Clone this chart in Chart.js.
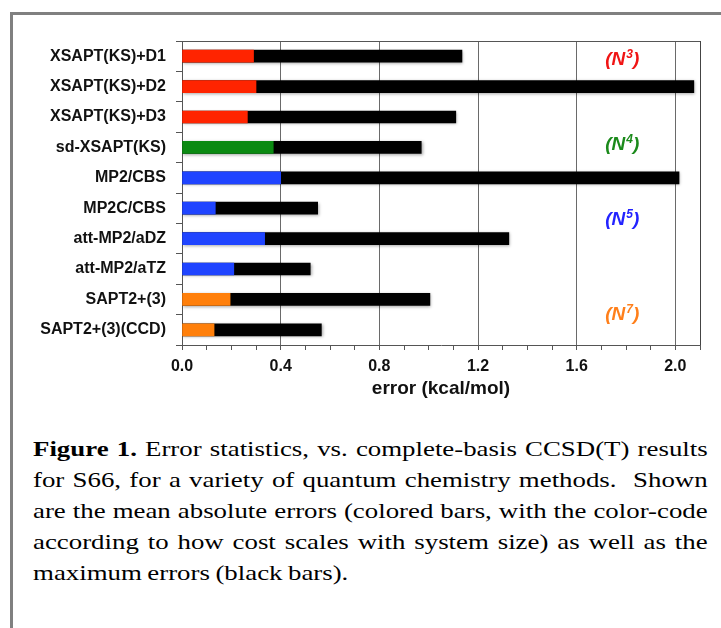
<!DOCTYPE html>
<html>
<head>
<meta charset="utf-8">
<script src="https://cdn.jsdelivr.net/npm/chart.js@4.4.1/dist/chart.umd.min.js"></script>
<style>
  html, body { margin: 0; padding: 0; background: #fff; }
  body { width: 721px; height: 628px; position: relative; overflow: hidden; }
  .frame {
    position: absolute; left: 10px; top: 12px; right: -10px; bottom: -10px;
    border-top: 3px solid #808080; border-left: 3px solid #808080;
  }
  #wrap { position: absolute; left: 0; top: 0; width: 721px; height: 405px; }
  /* caption set in a wide serif: 22px type stretched across 675px */
  .caption {
    position: absolute; left: 33px; top: 433px; width: 553px;
    transform: scaleX(1.22); transform-origin: left top;
    font-family: "Liberation Serif", "Times New Roman", serif;
    font-size: 22px; line-height: 31px; color: #000; word-spacing: -1px;
  }
  .caption div { text-align: justify; text-align-last: justify; white-space: nowrap; }
  .caption div.last { text-align-last: left; }
</style>
</head>
<body>
<div class="frame"></div>
<div id="wrap"><canvas id="chart"></canvas></div>
<div class="caption">
  <div><b>Figure 1.</b> Error statistics, vs. complete-basis CCSD(T) results</div>
  <div>for S66, for a variety of quantum chemistry methods.&nbsp; Shown</div>
  <div>are the mean absolute errors (colored bars, with the color-code</div>
  <div>according to how cost scales with system size) as well as the</div>
  <div class="last">maximum errors (black bars).</div>
</div>
<script>
// methods, top to bottom
const methods = [
  "XSAPT(KS)+D1", "XSAPT(KS)+D2", "XSAPT(KS)+D3", "sd-XSAPT(KS)", "MP2/CBS",
  "MP2C/CBS", "att-MP2/aDZ", "att-MP2/aTZ", "SAPT2+(3)", "SAPT2+(3)(CCD)",
];
// mean absolute error and maximum error, kcal/mol
const meanErrors = [0.29, 0.30, 0.265, 0.37, 0.40, 0.135, 0.335, 0.21, 0.195, 0.13];
const maxErrors = [1.135, 2.075, 1.11, 0.97, 2.015, 0.55, 1.325, 0.52, 1.005, 0.565];
// cost scaling of each method
const scaling = ["N3", "N3", "N3", "N4", "N5", "N5", "N5", "N5", "N7", "N7"];
const xTicksShown = [0.4, 0.8, 1.2, 1.6, 2.0];

const SCALE_COLORS = { N3: "#ff2400", N4: "#0b8a12", N5: "#1f44ff", N7: "#ff7f0a" };
const TAG_COLORS = { N3: "#f01414", N4: "#1b8a1b", N5: "#2323ff", N7: "#ff7f1a" };
// where the scaling tags sit: x in kcal/mol, y in category index
const tags = [
  { key: "N3", exp: "3", x: 1.785, y: 0.12 },
  { key: "N4", exp: "4", x: 1.785, y: 2.92 },
  { key: "N5", exp: "5", x: 1.785, y: 5.39 },
  { key: "N7", exp: "7", x: 1.785, y: 8.51 },
];

const isMajor = (v) => v > 0.01 && xTicksShown.some((t) => Math.abs(v - t) < 1e-6);

// drop shadow under the black bars
const barShadow = {
  id: "barShadow",
  beforeDatasetDraw(chart, args) {
    if (args.index !== 1) return;
    const ctx = chart.ctx;
    ctx.save();
    ctx.shadowColor = "rgba(0,0,0,0.35)";
    ctx.shadowBlur = 3;
    ctx.shadowOffsetX = 1;
    ctx.shadowOffsetY = 1;
  },
  afterDatasetDraw(chart, args) {
    if (args.index === 1) chart.ctx.restore();
  },
};

// top frame line and the (N^k) scaling tags
const frameAndTags = {
  id: "frameAndTags",
  afterDraw(chart) {
    const { ctx, chartArea, scales } = chart;
    ctx.save();
    ctx.strokeStyle = "#555";
    ctx.lineWidth = 1;
    ctx.beginPath();
    ctx.moveTo(chartArea.left, chartArea.top + 0.5);
    ctx.lineTo(chartArea.right, chartArea.top + 0.5);
    ctx.stroke();

    ctx.textBaseline = "middle";
    ctx.textAlign = "left";
    for (const t of tags) {
      const cx = scales.x.getPixelForValue(t.x);
      const cy = scales.y.getPixelForValue(t.y);
      const big = "italic bold 19px 'Liberation Sans', Arial, sans-serif";
      const small = "italic bold 12px 'Liberation Sans', Arial, sans-serif";
      ctx.font = big;
      const wOpen = ctx.measureText("(N").width;
      const wClose = ctx.measureText(")").width;
      ctx.font = small;
      const wExp = ctx.measureText(t.exp).width + 1;
      let x = cx - (wOpen + wExp + wClose) / 2;
      ctx.fillStyle = TAG_COLORS[t.key];
      ctx.font = big;
      ctx.fillText("(N", x, cy);
      x += wOpen;
      ctx.font = small;
      ctx.fillText(t.exp, x + 1, cy - 5);
      x += wExp;
      ctx.font = big;
      ctx.fillText(")", x, cy);
    }
    ctx.restore();
  },
};

new Chart(document.getElementById("chart"), {
  type: "bar",
  data: {
    labels: methods,
    datasets: [
      {
        label: "mean absolute error",
        data: meanErrors,
        backgroundColor: scaling.map((s) => SCALE_COLORS[s]),
        barThickness: 12,
        order: 0,
      },
      {
        label: "maximum error",
        data: maxErrors,
        backgroundColor: "#000",
        barThickness: 12,
        order: 1,
      },
    ],
  },
  options: {
    indexAxis: "y",
    responsive: true,
    maintainAspectRatio: false,
    animation: false,
    layout: { padding: { top: 41, right: 21, left: 0, bottom: 0 } },
    plugins: { legend: { display: false }, tooltip: { enabled: false } },
    scales: {
      x: {
        min: 0,
        max: 2.1,
        afterFit: (s) => { s.height = 60; },
        ticks: {
          stepSize: 0.1,
          autoSkip: false,
          maxRotation: 0,
          padding: 7,
          color: "#111",
          font: { family: "'Liberation Sans', Arial, sans-serif", size: 16, weight: "bold" },
          callback: (v) => (Math.abs(v) < 1e-6 || isMajor(v) ? v.toFixed(1) : ""),
        },
        grid: {
          tickLength: 5,
          tickColor: "#555",
          color: (c) => {
            const v = c.tick ? c.tick.value : 0;
            if (Math.abs(v - 2.1) < 1e-6) return "#444";
            return isMajor(v) ? "#6a6a6a" : "rgba(0,0,0,0)";
          },
        },
        border: { color: "#555" },
        title: {
          display: true,
          text: "error (kcal/mol)",
          color: "#111",
          font: { family: "'Liberation Sans', Arial, sans-serif", size: 19, weight: "bold" },
          padding: { top: 4, bottom: 5 },
        },
      },
      y: {
        stacked: true,
        afterFit: (s) => { s.width = 182; },
        ticks: {
          padding: 10,
          color: "#111",
          font: { family: "'Liberation Sans', Arial, sans-serif", size: 16, weight: "bold" },
        },
        grid: { drawOnChartArea: false, tickLength: 6, color: "#555", offset: true },
        border: { color: "#555" },
      },
    },
  },
  plugins: [barShadow, frameAndTags],
});
</script>
</body>
</html>
